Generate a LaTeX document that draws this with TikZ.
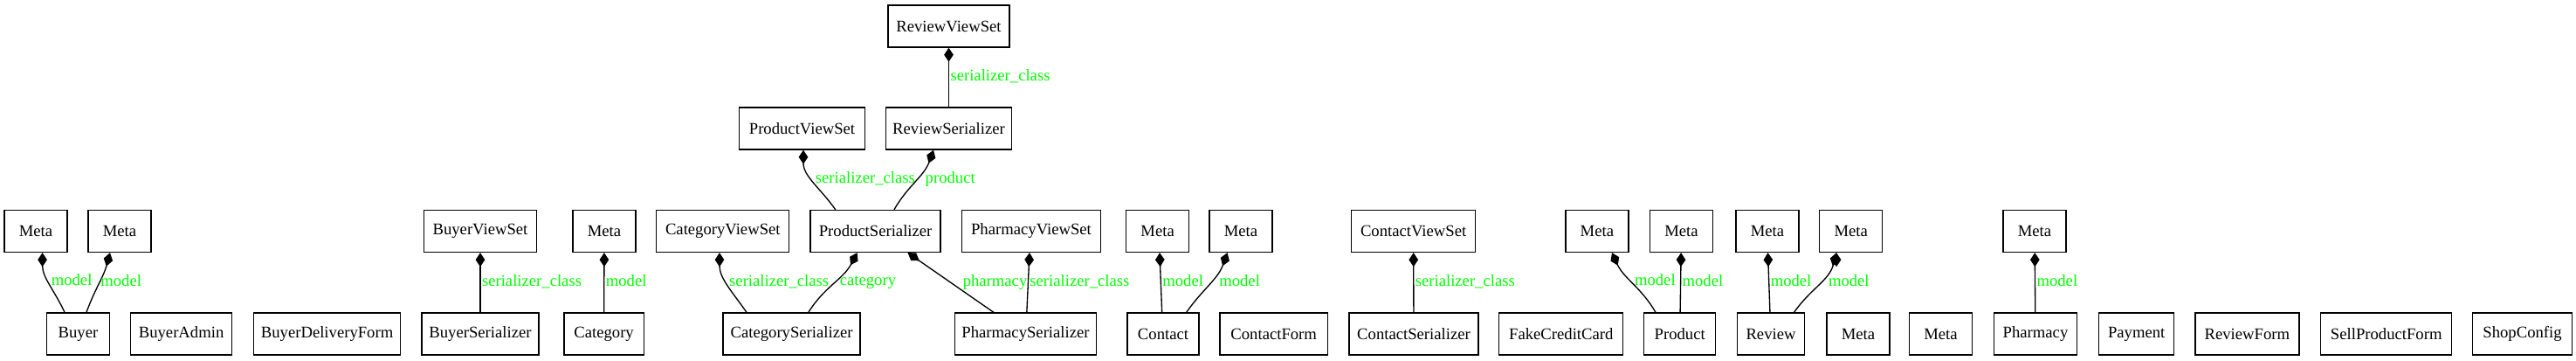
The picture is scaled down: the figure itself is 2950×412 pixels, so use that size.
\documentclass[tikz,border=0pt]{standalone}
\usepackage{fontspec}
\setmainfont{Liberation Serif}
\usetikzlibrary{arrows.meta}
\definecolor{lblgreen}{RGB}{0,255,0}

\begin{document}
\begin{tikzpicture}[x=0.75pt, y=-0.75pt]


        % Setup the styles for the classes and the links
        \tikzset{cls/.style={draw, rectangle,
                             line width=1pt,
                             minimum height=36pt,
                             inner xsep=2pt,
                             font=\fontsize{14}{16}\selectfont},
                 wd/.style={minimum width=#1*0.75pt},
                 link/.style={{Diamond[length=12pt,width=8pt]}-, line width=1pt},
                 lbl/.style={text=lblgreen, inner sep=1pt, anchor=west,
                             text height=9pt, text depth=3pt,
                             font=\fontsize{14}{16}\selectfont}}

\useasboundingbox (0,0) rectangle (2950,412);

% Top rows
\node[cls, wd=139] at (1086.5,30) (rvs) {ReviewViewSet};

\node[cls, wd=144] at (918.5,147) (pvs) {ProductViewSet};
\node[cls, wd=144] at (1086.5,147) (rser) {ReviewSerializer};

% Middle row
\node[cls, wd=72] at (41,264.5) (m1) {Meta};
\node[cls, wd=72] at (137,264.5) (m2) {Meta};
\node[cls, wd=129] at (550,264.5) (bvs) {BuyerViewSet};
\node[cls, wd=72] at (692,264.5) (mcat) {Meta};
\node[cls, wd=152] at (827.8,264.5) (cvs) {CategoryViewSet};
\node[cls, wd=149] at (1002.6,264.5) (ps) {ProductSerializer};
\node[cls, wd=159] at (1181,264.5) (phvs) {PharmacyViewSet};
\node[cls, wd=72] at (1325.6,264.5) (mc1) {Meta};
\node[cls, wd=72] at (1421,264.5) (mc2) {Meta};
\node[cls, wd=142] at (1618.6,264.5) (convs) {ContactViewSet};
\node[cls, wd=72] at (1828.9,264.5) (mp1) {Meta};
\node[cls, wd=72] at (1925.5,264.5) (mp2) {Meta};
\node[cls, wd=72] at (2024,264.5) (mr1) {Meta};
\node[cls, wd=72] at (2119.7,264.5) (mr2) {Meta};
\node[cls, wd=72] at (2330,264.5) (mph) {Meta};

% Bottom row
\node[cls, wd=72] at (89.5,382) (buyer) {Buyer};
\node[cls, wd=116] at (207.6,382) (badmin) {BuyerAdmin};
\node[cls, wd=168] at (374.6,382) (bdf) {BuyerDeliveryForm};
\node[cls, wd=134] at (550,382) (bser) {BuyerSerializer};
\node[cls, wd=91.5] at (691.6,382) (cat) {Category};
\node[cls, wd=157] at (906.6,382) (cser) {CategorySerializer};
\node[cls, wd=162.5] at (1174.5,382) (phser) {PharmacySerializer};
\node[cls, wd=82] at (1332,382) (contact) {Contact};
\node[cls, wd=123.5] at (1458.7,382) (cform) {ContactForm};
\node[cls, wd=148] at (1619,382) (conser) {ContactSerializer};
\node[cls, wd=142] at (1787.8,382) (fcc) {FakeCreditCard};
\node[cls, wd=82] at (1923.7,382) (product) {Product};
\node[cls, wd=77.5] at (2028,382) (review) {Review};
\node[cls, wd=72] at (2128,382) (meta1) {Meta};
\node[cls, wd=72] at (2222.4,382) (meta2) {Meta};
\node[cls, wd=95] at (2331,382) (pharmacy) {Pharmacy};
\node[cls, wd=86] at (2446.7,382) (payment) {Payment};
\node[cls, wd=119] at (2573.3,382) (rform) {ReviewForm};
\node[cls, wd=150] at (2732.7,382) (spf) {SellProductForm};
\node[cls, wd=114] at (2888.5,382) (shop) {ShopConfig};

	 \draw[link]
	  (rvs) edge node[lbl] {serializer\_class} (rser)
	  ([xshift=1.1pt]pvs.south) edge[out=-90, in=125] node[lbl, yshift=1.5pt] {serializer\_class} ([xshift=-34.4pt]ps.north)
	  ([xshift=-13.1pt]rser.south) edge[out=-110, in=60] node[lbl, xshift=7pt, yshift=1pt] {product} ([xshift=16pt]ps.north)
		([xshift=5.7pt]m1.south) edge[out=-90, in=115] node[lbl, yshift=1.5pt] {model} ([xshift=-11.6pt]buyer.north)
		([xshift=-8.25pt]m2.south) edge[out=-105, in=70] node[lbl] {model} ([xshift=7.1pt]buyer.north)
		(bvs) edge node[lbl] {serializer\_class} (bser)
		(mcat) edge node[lbl] {model} (cat)
		([xshift=-2.85pt]cvs.south) edge[out=-90, in=125] node[lbl, yshift=1.5pt] {serializer\_class} ([xshift=-38.7pt]cser.north)
		([xshift=-15.75pt]ps.south) edge[out=-118, in=58] node[lbl, xshift=4pt, yshift=1pt] {category} ([xshift=14.4pt]cser.north)
		([xshift=27.75pt]ps.south) edge node[lbl, xshift=9pt] {pharmacy} ([xshift=-27.45pt]phser.north)
		([xshift=-1.5pt]phvs.south) edge node[lbl] {serializer\_class} ([xshift=1pt]phser.north)
		([xshift=1.8pt]mc1.south) edge node[lbl] {model} ([xshift=-1pt]contact.north)
		([xshift=-11.55pt]mc2.south) edge[out=-110, in=55] node[lbl, xshift=7pt, yshift=1pt] {model} ([xshift=20pt]contact.north)
		(convs) edge node[lbl] {serializer\_class} (conser)
		([xshift=12.8pt]mp1.south) edge[out=-65, in=120] node[lbl, yshift=1pt] {model} ([xshift=-20.8pt]product.north)
		(mp2) edge node[lbl] {model} (product)
		([xshift=0.4pt]mr1.south) edge node[lbl] {model} ([xshift=-0.8pt]review.north)
		([xshift=-12.5pt]mr2.south) edge[out=-105, in=55] node[lbl, xshift=7pt, yshift=1pt] {model} ([xshift=19.9pt]review.north)
		(mph) edge node[lbl] {model} (pharmacy);
\end{tikzpicture}
\end{document}
